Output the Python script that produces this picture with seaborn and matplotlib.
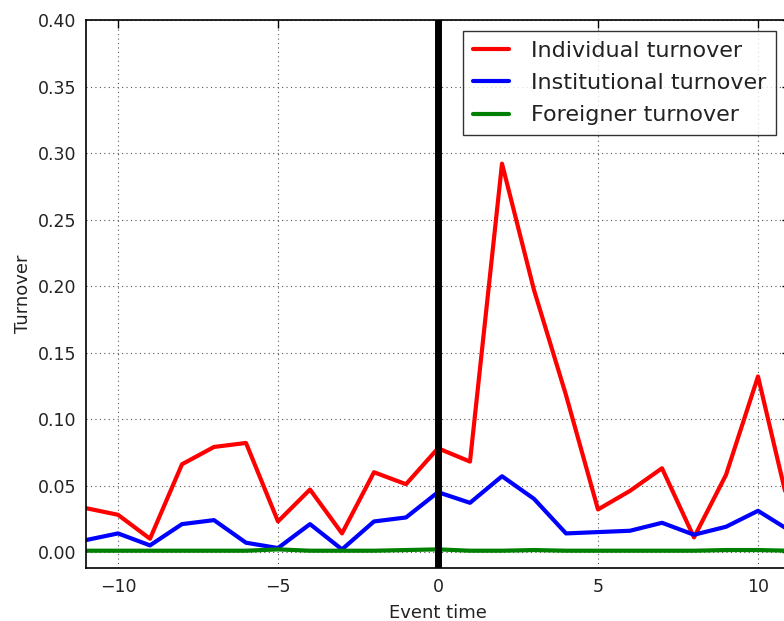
import numpy as np
import pandas as pd
import matplotlib
matplotlib.use("Agg")
import matplotlib.pyplot as plt
import seaborn as sns

event_time = list(range(-11, 12))
individual = [0.033, 0.028, 0.010, 0.066, 0.079, 0.082, 0.023, 0.047, 0.014, 0.060, 0.051,
              0.078, 0.068, 0.292, 0.197, 0.118, 0.032, 0.046, 0.063, 0.011, 0.058, 0.132, 0.030]
institutional = [0.009, 0.014, 0.005, 0.021, 0.024, 0.007, 0.003, 0.021, 0.002, 0.023, 0.026,
                 0.045, 0.037, 0.057, 0.040, 0.014, 0.015, 0.016, 0.022, 0.013, 0.019, 0.031, 0.016]
foreigner = [0.001, 0.001, 0.001, 0.001, 0.001, 0.001, 0.002, 0.001, 0.001, 0.001, 0.0015,
             0.002, 0.001, 0.001, 0.0015, 0.001, 0.001, 0.001, 0.001, 0.001, 0.0015, 0.0015, 0.001]
series_names = ["Individual turnover", "Institutional turnover", "Foreigner turnover"]
colors = ["#ff0000", "#0000ff", "#008000"]

df = pd.DataFrame({
    "Event time": event_time * 3,
    "Turnover": individual + institutional + foreigner,
    "series": [series_names[0]] * 23 + [series_names[1]] * 23 + [series_names[2]] * 23,
})

sns.set_theme(style="white")
plt.rcParams["font.family"] = ["DejaVu Sans"]
plt.rcParams["text.color"] = "#222222"

fig = plt.figure(figsize=(7.84, 6.21), dpi=100)
ax = fig.add_axes([86 / 784, (621 - 568) / 621, (790 - 86) / 784, (568 - 20) / 621])

sns.lineplot(data=df, x="Event time", y="Turnover", hue="series",
             palette=dict(zip(series_names, colors)), linewidth=3, ax=ax, legend=True)
ax.axvline(0, color="black", linewidth=5)

ax.set_xlim(-11, 11)
ax.set_ylim(-0.012, 0.40)
ax.set_xticks([-10, -5, 0, 5, 10])
ax.set_xticklabels(["\u221210", "\u22125", "0", "5", "10"])
ax.set_yticks(np.arange(0, 0.41, 0.05))
ax.set_yticklabels([f"{v:.2f}" for v in np.arange(0, 0.41, 0.05)])
ax.grid(True, linestyle=(0, (1, 3)), color="#555555", linewidth=0.8)
ax.tick_params(direction="in", length=6, width=1, labelsize=12.5, top=True, right=True,
               colors="black", labelcolor="#222222")
ax.tick_params(axis="x", pad=7)
ax.tick_params(axis="y", pad=7)
for s in ax.spines.values():
    s.set_color("black")
    s.set_linewidth(1.2)
ax.set_xlabel("Event time", fontsize=13, color="#222222", labelpad=6)
ax.set_ylabel("Turnover", fontsize=13, color="#222222", labelpad=4)

leg = ax.legend(loc="upper left", fontsize=16, frameon=True, fancybox=False,
                edgecolor="black", handlelength=1.6, handletextpad=1.0,
                borderpad=0.45, labelspacing=0.55, borderaxespad=0)
leg.get_frame().set_linewidth(1.0)
leg.set_bbox_to_anchor(((463 - 86) / 704, 1 - 11 / 548), transform=ax.transAxes)

fig.savefig("out.png", dpi=100, facecolor="white")
